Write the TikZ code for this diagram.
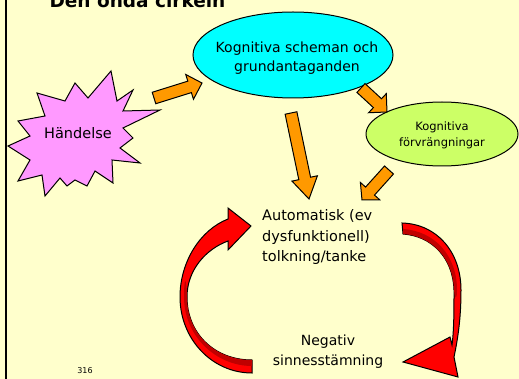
\documentclass[tikz,border=0pt]{standalone}
\usepackage{fontspec}
\setmainfont{DejaVu Sans}
\usepackage{xcolor}
\usepackage{tikz}
\usetikzlibrary{calc,shapes.geometric}
\definecolor{paper}{HTML}{FFFFCC}
\definecolor{schemafill}{HTML}{00FFFF}
\definecolor{distortfill}{HTML}{CCFF66}
\definecolor{burstpink}{HTML}{FF99FF}
\definecolor{fatorange}{HTML}{FF9900}
\definecolor{cycred}{HTML}{FF0000}
\definecolor{cycdark}{HTML}{C00000}

% fat block arrow: start, end, head length
\newcommand{\fatarrow}[3]{%
  \coordinate (fh) at ($(#2)!#3!(#1)$);
  \draw[fat] ($(#1)!6pt!90:(#2)$) -- ($(fh)!6pt!90:(#2)$) -- ($(fh)!13pt!90:(#2)$) -- (#2)
    -- ($(fh)!13pt!-90:(#2)$) -- ($(fh)!6pt!-90:(#2)$) -- ($(#1)!6pt!-90:(#2)$) -- cycle;}

\begin{document}
\begin{tikzpicture}[
  x=1pt,y=-1pt,
  blob/.style={ellipse,draw=black,line width=1pt,inner sep=0pt},
  burst/.style={draw=black,line width=1pt,fill=burstpink,line join=miter},
  fat/.style={draw=black,line width=1pt,fill=fatorange,line join=miter},
  cyc/.style={draw=black,line width=1pt,fill=cycred,line join=miter},
  txt/.style={font=\fontsize{14.5}{20.5}\selectfont,inner sep=0pt,align=center}
]
  \useasboundingbox (0,0) rectangle (519,379);
  \fill[paper] (0,0) rectangle (519,379);
  \draw[line width=2pt] (6,0) -- (6,379);

  \node[anchor=base west,font=\bfseries\fontsize{18.5}{18.5}\selectfont] (title) at (46,8) {Den onda cirkeln};

  % Händelse
  \draw[burst] (111,71) -- (117,101) -- (133,90) -- (123,111) -- (160,110) -- (123,128)
    -- (133,138) -- (120,148) -- (140,163) -- (112,160) -- (113,183) -- (95,171)
    -- (87,186) -- (75,180) -- (67,186) -- (60,178) -- (45,196) -- (42,175)
    -- (18,181) -- (30,160) -- (8,146) -- (30,136) -- (18,121) -- (45,116)
    -- (37,93) -- (65,101) -- (75,83) -- (88,98) -- cycle;
  \node[txt,font=\fontsize{14.5}{16}\selectfont] (event) at (78,133) {Händelse};

  \node[blob,fill=schemafill,minimum width=200pt,minimum height=86pt] (schema) at (293,55) {};
  \node[txt,font=\fontsize{14}{19}\selectfont] (schematext) at (297,58) {Kognitiva scheman och\\grundantaganden};
  \node[blob,fill=distortfill,minimum width=152pt,minimum height=64pt] (distort) at (442,134) {};
  \node[txt,font=\fontsize{11.5}{16}\selectfont] (distorttext) at (442,135) {Kognitiva\\förvrängningar};

  \node[txt,anchor=west,align=left] (thought) at (262,237) {Automatisk (ev\\dysfunktionell)\\tolkning/tanke};
  \node[txt,font=\fontsize{14}{20}\selectfont] (mood) at (328,352) {Negativ\\sinnesstämning};

  % orange arrows
  \coordinate (a1) at (154,98);  \coordinate (b1) at (202,83);
  \coordinate (a2) at (361,88);  \coordinate (b2) at (387,112);
  \coordinate (a3) at (291,113); \coordinate (b3) at (309,199);
  \coordinate (a4) at (389,170); \coordinate (b4) at (362,200);
  \fatarrow{a1}{b1}{13pt}
  \fatarrow{a2}{b2}{13pt}
  \fatarrow{a3}{b3}{21pt}
  \fatarrow{a4}{b4}{12pt}

  % the circle
  \draw[cyc] (252,373) .. controls (212,373) and (180,339) .. (180,297)
    .. controls (180,262) and (200,230) .. (228,219)
    -- (228,208) -- (251,226) -- (228,250) -- (228,241)
    .. controls (206,249) and (187,270) .. (187,297)
    .. controls (187,333) and (214,360) .. (252,360) -- cycle;
  \fill[cycdark] (252,366) .. controls (216,366) and (184,336) .. (184,297)
    .. controls (184,280) and (186,272) .. (187,297)
    .. controls (187,333) and (214,360) .. (252,360) -- cycle;
  \draw[cyc] (402,223) .. controls (437,224) and (461,252) .. (461,290)
    .. controls (461,318) and (458,338) .. (454,357)
    -- (458,377) -- (403,362) -- (450,337) -- (452,345)
    .. controls (454,330) and (454,310) .. (454,290)
    .. controls (453,258) and (432,236) .. (403,234) -- cycle;
  \fill[cycdark] (403,229) .. controls (434,231) and (457,255) .. (457,290)
    .. controls (457,300) and (455,300) .. (454,290)
    .. controls (453,258) and (432,236) .. (403,234) -- cycle;

  \node[font=\fontsize{8}{8}\selectfont,inner sep=0pt] (page) at (85,371) {316};
\end{tikzpicture}
\end{document}
